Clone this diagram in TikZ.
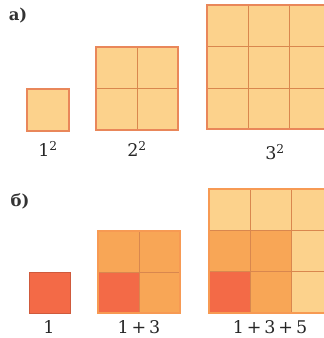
\documentclass[tikz,border=0pt]{standalone}
\usepackage{fontspec}
\setmainfont{DejaVu Serif}
\usepackage{tikz}
\definecolor{sqlight}{HTML}{FCD28C}
\definecolor{sqorange}{HTML}{F8A656}
\definecolor{sqred}{HTML}{F36A47}
\definecolor{sqedge}{HTML}{E9875A}
\definecolor{sqgrid}{HTML}{D9874E}
\begin{document}
\begin{tikzpicture}[x=1pt, y=-1pt,
  outline/.style={draw=sqedge, line width=1.8pt},
  gridline/.style={draw=sqgrid, line width=0.7pt},
  numlabel/.style={font=\fontsize{17.5}{19}\selectfont, text=black!85, inner sep=0pt},
  partlabel/.style={font=\fontsize{16.5}{18}\selectfont\bfseries, text=black!80, inner sep=0pt}]
\fill[white] (0,0) rectangle (324,338);
\clip (0,0) rectangle (324,338);
% part a)
\node[partlabel] (parta) at (18,16) {а)};
\fill[sqlight] (27,89) rectangle (69,131);
\draw[outline] (27,89) rectangle (69,131);
\fill[sqlight] (96,47) rectangle (178,130);
\draw[gridline] (137,47) -- (137,130) (96,88.5) -- (178,88.5);
\draw[outline] (96,47) rectangle (178,130);
\fill[sqlight] (207,5) rectangle (331,129);
\draw[gridline] (248,5) -- (248,129) (289,5) -- (289,129)
  (207,46) -- (331,46) (207,88) -- (331,88);
\draw[outline] (207,5) rectangle (331,129);
\node[numlabel] (sqone) at (48,149) {1\textsuperscript{2}};
\node[numlabel] (sqtwo) at (137,149) {2\textsuperscript{2}};
\node[numlabel] (sqthree) at (275,152) {3\textsuperscript{2}};
% part b)
\node[partlabel] (partb) at (20,201) {б)};
\fill[sqred] (29,272) rectangle (70,313);
\draw[draw=sqred!85!black, line width=0.8pt] (29,272) rectangle (70,313);
\fill[sqorange] (98,231) rectangle (180,313);
\fill[sqred] (98,272) rectangle (139,313);
\draw[gridline] (139,231) -- (139,313) (98,272) -- (180,272);
\draw[outline, draw=sqorange!80!sqred] (98,231) rectangle (180,313);
\fill[sqlight] (209,189) rectangle (333,313);
\fill[sqorange] (209,230) rectangle (291,313);
\fill[sqred] (209,271) rectangle (250,313);
\draw[gridline] (250,189) -- (250,313) (291,189) -- (291,313)
  (209,230) -- (333,230) (209,271) -- (333,271);
\draw[outline, draw=sqorange!80!sqred] (209,189) rectangle (333,313);
\node[numlabel] (sumone) at (49,327) {1};
\node[numlabel] (sumtwo) at (139,327) {1\,+\,3};
\node[numlabel] (sumthree) at (270,327) {1\,+\,3\,+\,5};
\end{tikzpicture}
\end{document}
